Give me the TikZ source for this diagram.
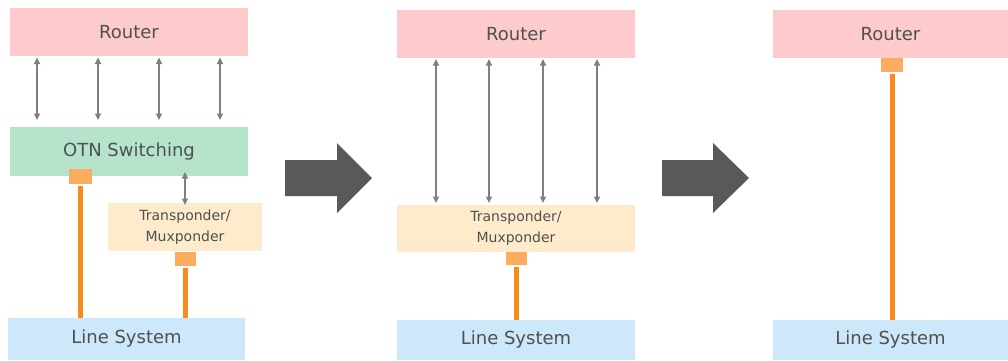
\documentclass[tikz,border=0pt]{standalone}
\usepackage{fontspec}
\setmainfont{DejaVu Sans}
\usetikzlibrary{arrows.meta}
\definecolor{routerc}{HTML}{FDCBCB}
\definecolor{otnc}{HTML}{B5E3CC}
\definecolor{transc}{HTML}{FDEBCB}
\definecolor{linec}{HTML}{CCE8FA}
\definecolor{sqc}{HTML}{FCAC5E}
\definecolor{orc}{HTML}{F98A1C}
\definecolor{greyc}{HTML}{7F7F7F}
\definecolor{bigc}{HTML}{595959}
\definecolor{txtc}{HTML}{505050}
\tikzset{
  boxbase/.style={rectangle, inner sep=0pt, outer sep=0pt, text=txtc, align=center},
  routerbox/.style={boxbase, fill=routerc, font=\fontsize{18bp}{21bp}\selectfont},
  otnbox/.style={boxbase, fill=otnc, font=\fontsize{18bp}{21bp}\selectfont},
  transbox/.style={boxbase, fill=transc, font=\fontsize{14bp}{21bp}\selectfont},
  linebox/.style={boxbase, fill=linec, font=\fontsize{18bp}{21bp}\selectfont},
  portsq/.style={rectangle, inner sep=0pt, outer sep=0pt, fill=sqc},
  fiber/.style={draw=orc, line width=5bp},
  biarrow/.style={draw=greyc, line width=1.9bp, {Triangle[length=6.5bp,width=6bp]}-{Triangle[length=6.5bp,width=6bp]}},
  bigarrow/.style={fill=bigc, draw=none}
}
\begin{document}
\begin{tikzpicture}[x=1bp, y=-1bp]
\useasboundingbox (0,0) rectangle (1008,360);

% ---------- Panel 1 ----------
\node[routerbox, minimum width=238bp, minimum height=48bp] (r1) at (129,32) {Router};
\node[otnbox, minimum width=238bp, minimum height=49bp] (o1) at (129,151.5) {OTN Switching};
\node[transbox, minimum width=154bp, minimum height=48bp] (t1) at (185,227) {Transponder/\\Muxponder};
\node[linebox, minimum width=237bp, minimum height=42bp] (l1) at (126.5,339) {Line System};
\node[portsq, minimum width=23bp, minimum height=15bp] (s1a) at (80.5,176.5) {};
\node[portsq, minimum width=21bp, minimum height=14bp] (s1b) at (185.5,259) {};

\foreach \xx in {37,98,159,220}{
  \draw[biarrow] ([yshift=-1.5bp]r1.south -| \xx,0) -- ([yshift=7bp]o1.north -| \xx,0);
}
\draw[biarrow] ([yshift=4bp]o1.south -| 185,0) -- ([yshift=-2bp]t1.north -| 185,0);
\draw[fiber] ([yshift=-2bp]s1a.south) -- (l1.north -| s1a.south);
\draw[fiber] ([yshift=-2bp]s1b.south) -- (l1.north -| s1b.south);

% big arrow 1
\fill[bigarrow] (285,160) -- (337,160) -- (337,143) -- (372,178) -- (337,213) -- (337,196) -- (285,196) -- cycle;

% ---------- Panel 2 ----------
\node[routerbox, minimum width=238bp, minimum height=48bp] (r2) at (516,34) {Router};
\node[transbox, minimum width=238bp, minimum height=47bp] (t2) at (516,228.5) {Transponder/\\Muxponder};
\node[linebox, minimum width=238bp, minimum height=40bp] (l2) at (516,340) {Line System};
\node[portsq, minimum width=21bp, minimum height=13bp] (s2) at (516.5,258.5) {};

\foreach \xx in {436,489,543,597}{
  \draw[biarrow] ([yshift=-1bp]r2.south -| \xx,0) -- ([yshift=2bp]t2.north -| \xx,0);
}
\draw[fiber] ([yshift=-2bp]s2.south) -- (l2.north -| s2.south);

% big arrow 2
\fill[bigarrow] (662,160) -- (713,160) -- (713,143) -- (749,178) -- (713,213) -- (713,196) -- (662,196) -- cycle;

% ---------- Panel 3 ----------
\node[routerbox, minimum width=235bp, minimum height=48bp] (r3) at (890.5,34) {Router};
\node[linebox, minimum width=235bp, minimum height=40bp] (l3) at (890.5,340) {Line System};
\node[portsq, minimum width=22bp, minimum height=14bp] (s3) at (892,65) {};
\draw[fiber] ([yshift=-2bp]s3.south) -- (l3.north -| s3.south);

\end{tikzpicture}
\end{document}
